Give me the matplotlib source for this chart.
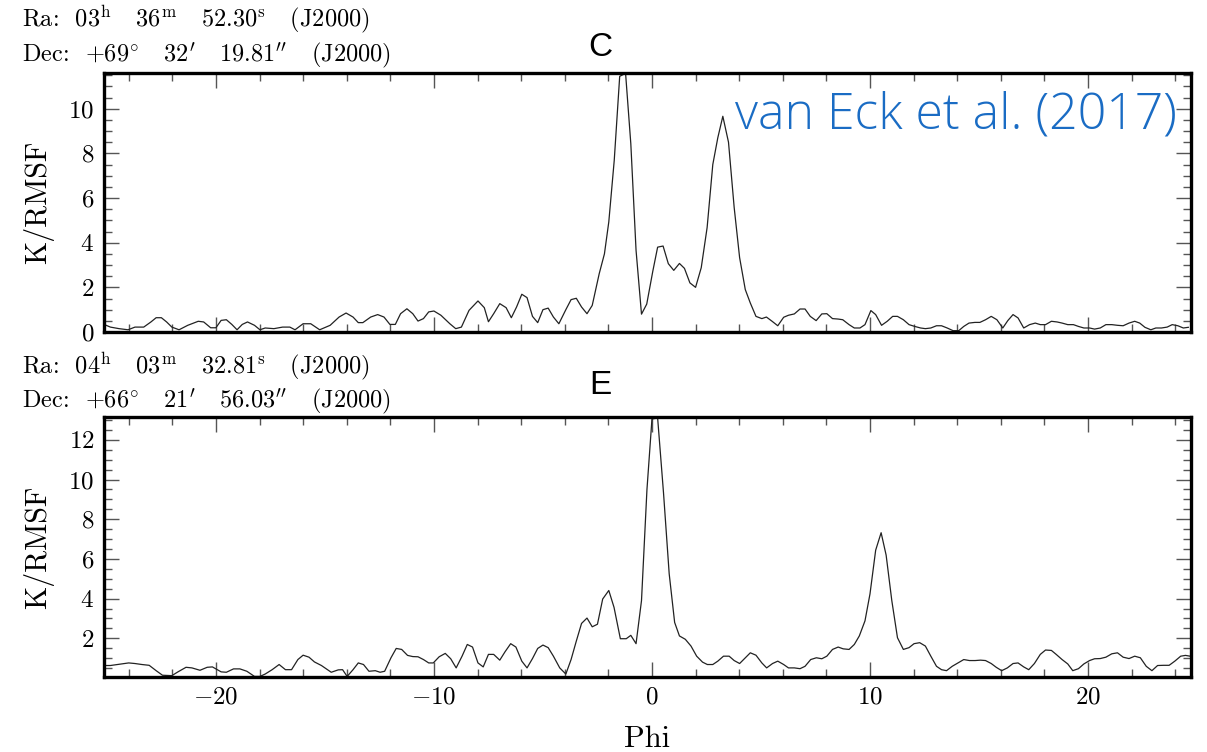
import numpy as np
import matplotlib
matplotlib.use("Agg")
import matplotlib.pyplot as plt
from matplotlib.ticker import MultipleLocator

# Faraday spectrum of source C
phi_c = [-25.13, -24.84, -24.44, -24.03, -23.71, -23.31, -22.98, -22.74, -22.5, -22.26,
         -22.02, -21.69, -21.29, -20.81, -20.56, -20.24, -20.0, -19.76, -19.52, -19.27,
         -19.03, -18.79, -18.55, -18.23, -17.98, -17.74, -17.34, -16.94, -16.61, -16.37,
         -16.0, -15.65, -15.24, -14.76, -14.35, -14.03, -13.71, -13.47, -13.26, -12.9,
         -12.58, -12.29, -12.02, -11.77, -11.53, -11.24, -10.97, -10.73, -10.48, -10.24,
         -10.0, -9.68, -9.27, -9.0, -8.74, -8.39, -7.98, -7.69, -7.5, -7.26,
         -6.98, -6.69, -6.45, -6.21, -5.97, -5.73, -5.48, -5.24, -5.0, -4.76,
         -4.52, -4.27, -3.95, -3.71, -3.47, -3.23, -2.98, -2.74, -2.42, -2.18,
         -1.98, -1.73, -1.48, -1.21, -0.97, -0.73, -0.48, -0.24, 0.04, 0.26,
         0.51, 0.75, 1.0, 1.26, 1.49, 1.74, 2.0, 2.26, 2.53, 2.79,
         3.02, 3.25, 3.51, 3.77, 4.02, 4.28, 4.51, 4.77, 5.04, 5.25,
         5.51, 5.77, 6.04, 6.26, 6.53, 6.79, 7.02, 7.26, 7.53, 7.79,
         8.02, 8.28, 8.54, 8.75, 9.04, 9.28, 9.54, 9.77, 10.04, 10.26,
         10.53, 10.79, 11.04, 11.26, 11.53, 11.79, 12.05, 12.32, 12.54, 12.79,
         13.05, 13.28, 13.54, 13.81, 14.07, 14.3, 14.54, 14.81, 15.04, 15.3,
         15.56, 15.82, 16.09, 16.32, 16.56, 16.79, 17.05, 17.32, 17.58, 17.81,
         18.05, 18.32, 18.58, 18.81, 19.07, 19.33, 19.56, 19.81, 20.07, 20.3,
         20.56, 20.82, 21.09, 21.35, 21.61, 21.88, 22.14, 22.37, 22.61, 22.88,
         23.11, 23.37, 23.63, 23.86, 24.12, 24.37, 24.6]
k_c = [0.34, 0.22, 0.15, 0.1, 0.22, 0.22, 0.45, 0.64, 0.64, 0.45,
       0.22, 0.1, 0.3, 0.48, 0.45, 0.19, 0.19, 0.52, 0.55, 0.34,
       0.1, 0.34, 0.45, 0.3, 0.1, 0.18, 0.15, 0.22, 0.22, 0.1,
       0.37, 0.37, 0.1, 0.3, 0.67, 0.85, 0.67, 0.42, 0.42, 0.67,
       0.78, 0.67, 0.34, 0.34, 0.82, 1.04, 0.82, 0.49, 0.6, 0.9,
       0.94, 0.75, 0.37, 0.15, 0.22, 0.97, 1.39, 1.09, 0.46, 0.82,
       1.27, 1.09, 0.64, 1.12, 1.69, 1.54, 0.7, 0.42, 1.0, 1.07,
       0.67, 0.37, 1.0, 1.45, 1.51, 1.12, 0.82, 1.19, 2.61, 3.5,
       4.93, 7.69, 11.45, 11.58, 8.43, 3.66, 0.8, 1.25, 2.73, 3.8,
       3.85, 3.06, 2.76, 3.07, 2.85, 2.2, 2.0, 2.88, 4.68, 7.5,
       8.7, 9.66, 8.5, 5.58, 3.33, 1.9, 1.3, 0.7, 0.6, 0.67,
       0.48, 0.28, 0.66, 0.75, 0.81, 1.03, 1.03, 0.7, 0.51, 0.81,
       0.82, 0.6, 0.58, 0.55, 0.33, 0.18, 0.18, 0.33, 0.96, 0.78,
       0.3, 0.48, 0.7, 0.7, 0.55, 0.33, 0.25, 0.18, 0.15, 0.18,
       0.28, 0.28, 0.18, 0.06, 0.06, 0.25, 0.4, 0.43, 0.43, 0.55,
       0.7, 0.55, 0.18, 0.51, 0.78, 0.63, 0.18, 0.33, 0.4, 0.33,
       0.33, 0.48, 0.45, 0.4, 0.33, 0.33, 0.25, 0.18, 0.18, 0.13,
       0.18, 0.33, 0.33, 0.3, 0.28, 0.4, 0.48, 0.4, 0.21, 0.1,
       0.18, 0.18, 0.22, 0.33, 0.28, 0.18, 0.21]

# Faraday spectrum of source E
phi_e = [-25.13, -24.84, -24.52, -24.0, -23.71, -23.39, -23.06, -22.74, -22.45, -22.02,
         -21.74, -21.37, -21.1, -20.73, -20.4, -20.16, -19.76, -19.52, -19.19, -18.9,
         -18.58, -18.23, -17.98, -17.74, -17.42, -17.1, -16.81, -16.53, -16.24, -16.0,
         -15.73, -15.48, -15.16, -14.71, -14.39, -14.19, -13.98, -13.71, -13.47, -13.23,
         -12.98, -12.69, -12.47, -12.26, -11.97, -11.73, -11.48, -11.21, -10.97, -10.73,
         -10.48, -10.24, -10.03, -9.76, -9.48, -9.23, -8.98, -8.71, -8.47, -8.23,
         -7.98, -7.74, -7.5, -7.26, -6.98, -6.74, -6.48, -6.24, -5.97, -5.73,
         -5.48, -5.24, -5.0, -4.76, -4.52, -4.23, -3.95, -3.71, -3.47, -3.23,
         -2.98, -2.74, -2.5, -2.26, -1.98, -1.74, -1.45, -1.18, -0.97, -0.73,
         -0.48, -0.23, 0.0, 0.26, 0.53, 0.79, 1.04, 1.26, 1.53, 1.79,
         2.05, 2.32, 2.54, 2.79, 3.02, 3.28, 3.54, 3.77, 4.02, 4.28,
         4.51, 4.77, 5.04, 5.26, 5.53, 5.77, 6.04, 6.26, 6.53, 6.79,
         7.02, 7.28, 7.54, 7.79, 8.02, 8.28, 8.54, 8.77, 9.04, 9.28,
         9.51, 9.77, 10.0, 10.26, 10.51, 10.74, 11.0, 11.26, 11.53, 11.79,
         12.02, 12.28, 12.54, 12.79, 13.05, 13.28, 13.51, 13.77, 14.04, 14.3,
         14.56, 14.82, 15.07, 15.3, 15.56, 15.79, 16.04, 16.3, 16.56, 16.79,
         17.05, 17.28, 17.54, 17.81, 18.05, 18.32, 18.54, 18.81, 19.07, 19.3,
         19.56, 19.81, 20.07, 20.3, 20.56, 20.82, 21.09, 21.35, 21.61, 21.88,
         22.14, 22.4, 22.67, 22.93, 23.19, 23.46, 23.72, 23.98, 24.25, 24.47,
         24.68]
k_e = [0.63, 0.63, 0.68, 0.76, 0.73, 0.68, 0.64, 0.37, 0.14, 0.12,
       0.31, 0.54, 0.51, 0.39, 0.54, 0.56, 0.31, 0.29, 0.46, 0.46,
       0.34, 0.08, 0.08, 0.2, 0.42, 0.68, 0.42, 0.42, 0.93, 1.15,
       1.05, 0.81, 0.63, 0.29, 0.41, 0.42, 0.08, 0.42, 0.76, 0.68,
       0.34, 0.37, 0.29, 0.34, 1.02, 1.49, 1.44, 1.14, 1.08, 1.07,
       0.93, 0.76, 0.76, 1.07, 1.24, 0.97, 0.51, 1.1, 1.69, 1.56,
       0.76, 0.56, 1.19, 1.19, 0.9, 1.32, 1.73, 1.56, 0.85, 0.51,
       0.98, 1.49, 1.66, 1.53, 1.1, 0.51, 0.2, 0.93, 1.86, 2.75,
       3.02, 2.58, 2.71, 3.98, 4.41, 3.56, 1.98, 1.98, 2.15, 1.73,
       3.9, 9.49, 13.05, 13.1, 9.32, 5.25, 2.8, 2.12, 1.95, 1.61,
       1.1, 0.8, 0.68, 0.68, 0.85, 1.1, 1.1, 0.88, 0.73, 1.02,
       1.27, 1.15, 0.76, 0.51, 0.73, 0.85, 0.68, 0.51, 0.51, 0.47,
       0.59, 0.93, 1.02, 0.97, 1.1, 1.44, 1.56, 1.47, 1.44, 1.69,
       2.12, 2.88, 4.24, 6.44, 7.32, 6.19, 3.9, 2.03, 1.44, 1.53,
       1.73, 1.78, 1.61, 1.1, 0.59, 0.42, 0.37, 0.59, 0.76, 0.93,
       0.88, 0.88, 0.9, 0.88, 0.73, 0.54, 0.37, 0.51, 0.73, 0.76,
       0.56, 0.42, 0.73, 1.19, 1.41, 1.39, 1.19, 0.93, 0.71, 0.37,
       0.47, 0.71, 0.88, 0.97, 0.98, 1.05, 1.22, 1.27, 1.05, 0.98,
       1.1, 1.02, 0.59, 0.37, 0.63, 0.64, 0.64, 0.85, 1.1, 1.14,
       1.1]

ra_c = r"Ra:  03$^{\rm h}$   36$^{\rm m}$   52.30$^{\rm s}$   (J2000)"
dec_c = r"Dec:  +69$^{\circ}$   32$'$   19.81$''$   (J2000)"
ra_e = r"Ra:  04$^{\rm h}$   03$^{\rm m}$   32.81$^{\rm s}$   (J2000)"
dec_e = r"Dec:  +66$^{\circ}$   21$'$   56.03$''$   (J2000)"

plt.rcParams['font.family'] = ['cmr10', 'DejaVu Serif']
plt.rcParams['mathtext.fontset'] = 'cm'
plt.rcParams['axes.formatter.use_mathtext'] = True

fig = plt.figure(figsize=(12.07, 7.52), dpi=100)
ax1 = fig.add_axes([0.0862, 0.5585, 0.9005, 0.3445])
ax2 = fig.add_axes([0.0862, 0.0997, 0.9005, 0.3458])


def style_axis(ax):
    # thick frame, inward ticks on every side
    for s in ax.spines.values():
        s.set_linewidth(2.4)
    ax.xaxis.set_major_locator(MultipleLocator(10))
    ax.xaxis.set_minor_locator(MultipleLocator(2))
    ax.yaxis.set_major_locator(MultipleLocator(2))
    ax.yaxis.set_minor_locator(MultipleLocator(0.5))
    ax.tick_params(which='both', direction='in', top=True, right=True,
                   color='#555555', width=1.0, labelsize=18, pad=7)
    ax.tick_params(which='major', length=11)
    ax.tick_params(which='minor', length=5.5)
    ax.set_xlim(-25.13, 24.72)
    ax.set_ylabel('K/RMSF', fontsize=21.5)
    ax.yaxis.set_label_coords(-0.046, 0.5)


ax1.plot(phi_c, k_c, color='#222222', linewidth=0.9)
style_axis(ax1)
ax1.set_ylim(0, 11.6)
ax1.tick_params(labelbottom=False)

ax2.plot(phi_e, k_e, color='#222222', linewidth=0.9)
style_axis(ax2)
ax2.set_ylim(0.05, 13.15)
ax2.set_xlabel('Phi', fontsize=22)
ax2.xaxis.set_label_coords(0.5, -0.185)

# coordinates above each panel
fig.text(0.018, 0.973, ra_c, fontsize=17.5, va='center', ha='left')
fig.text(0.018, 0.927, dec_c, fontsize=17.5, va='center', ha='left')
fig.text(0.018, 0.512, ra_e, fontsize=17.5, va='center', ha='left')
fig.text(0.018, 0.467, dec_e, fontsize=17.5, va='center', ha='left')

# panel letters
fig.text(0.497, 0.9375, 'C', fontsize=24, family='Liberation Sans', ha='center', va='center')
fig.text(0.497, 0.488, 'E', fontsize=24, family='Liberation Sans', ha='center', va='center')

fig.text(0.975, 0.846, 'van Eck et al. (2017)', fontsize=36, color='#1a6cc4',
         family='Open Sans', weight='light', ha='right', va='center')

fig.savefig('out.png', dpi=100)
